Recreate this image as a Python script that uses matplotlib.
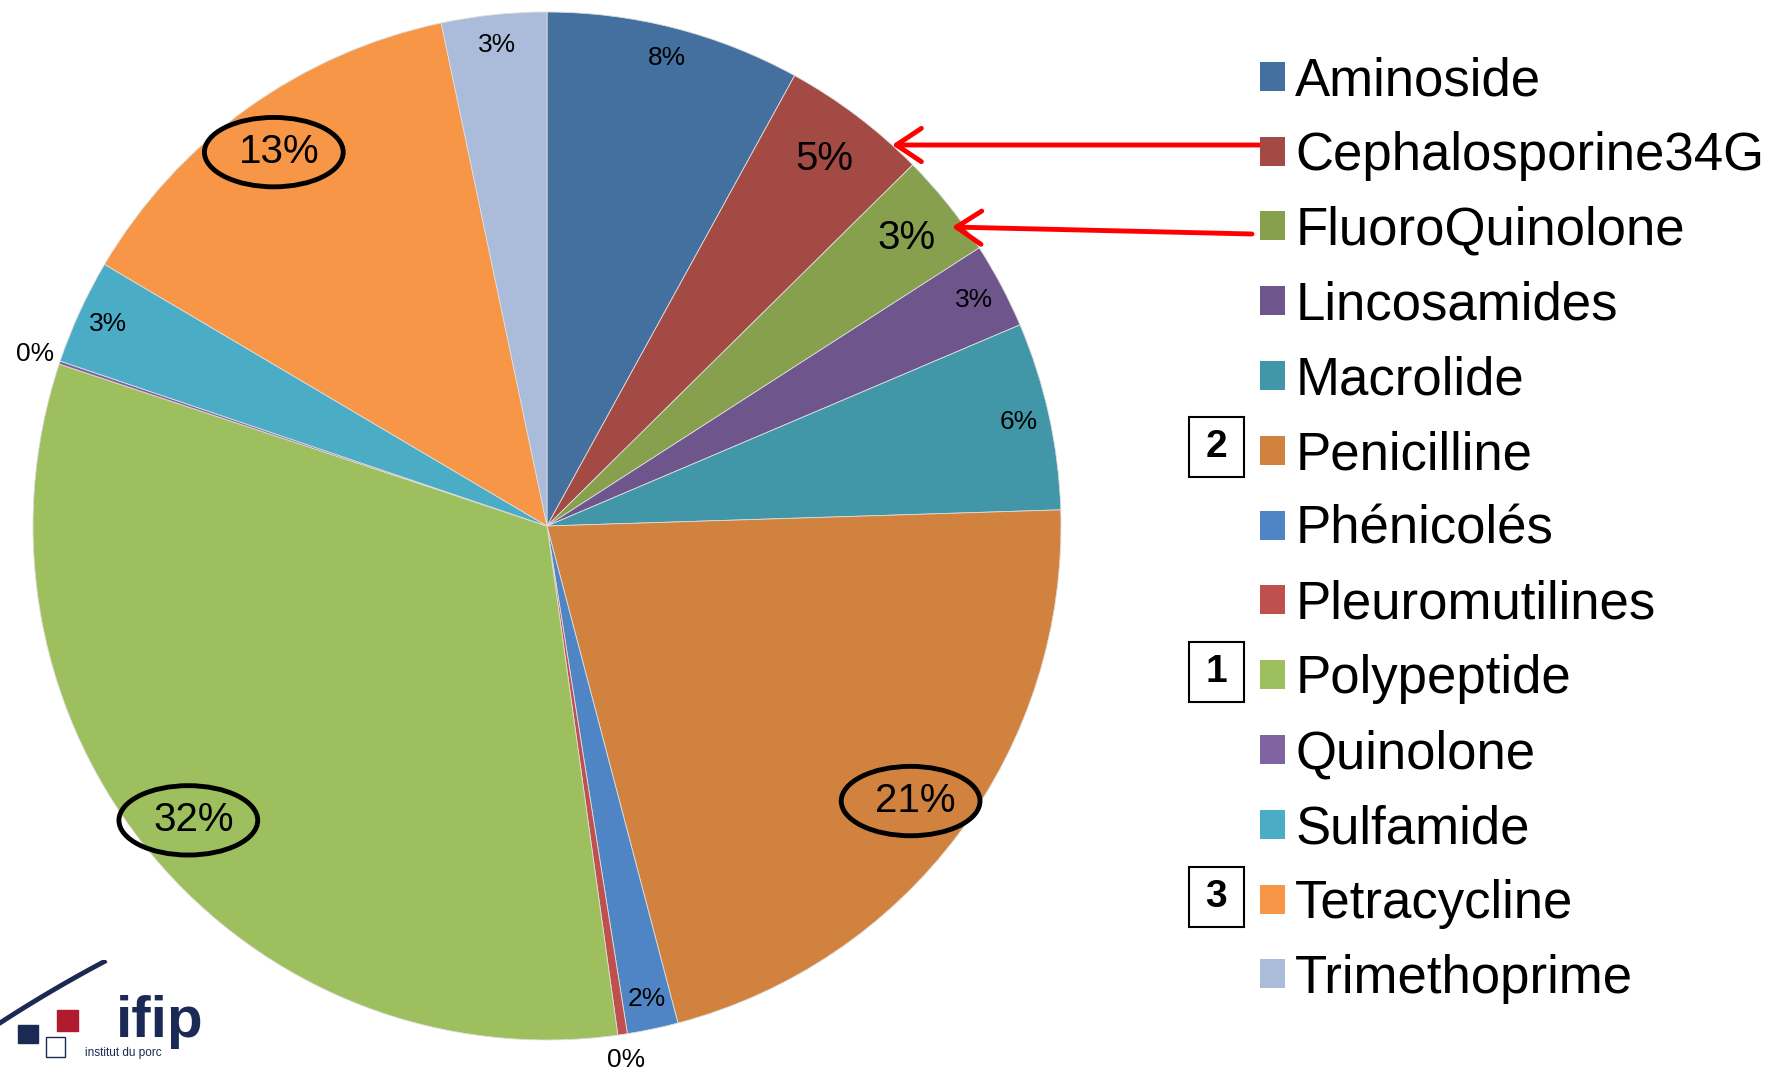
import numpy as np
import matplotlib
matplotlib.use("Agg")
import matplotlib.pyplot as plt
from matplotlib.patches import Ellipse, Rectangle

plt.rcParams['font.family'] = ['Liberation Sans', 'DejaVu Sans']

# données (%)
categories = ["Aminoside", "Cephalosporine34G", "FluoroQuinolone", "Lincosamides",
              "Macrolide", "Penicilline", "Phénicolés", "Pleuromutilines",
              "Polypeptide", "Quinolone", "Sulfamide", "Tetracycline", "Trimethoprime"]
values = [8.0, 4.6, 3.3, 2.7, 5.9, 21.4, 1.6, 0.3, 32.3, 0.1, 3.3, 13.2, 3.3]
colors = ["#44709F", "#A34A45", "#86A04E", "#6E568C", "#4196A8", "#D0823E", "#4F85C4",
          "#C0504D", "#9DBF5D", "#8064A2", "#4BACC6", "#F79646", "#AABCD9"]
big = ["Cephalosporine34G", "FluoroQuinolone", "Penicilline", "Polypeptide", "Tetracycline"]
circled = ["Penicilline", "Polypeptide", "Tetracycline"]
ranks = {"Polypeptide": "1", "Penicilline": "2", "Tetracycline": "3"}

W, H = 1775, 1071
fig = plt.figure(figsize=(W / 100, H / 100), dpi=100)

# camembert : centre (547, 526) px, rayon 514 px
cx, cy, R = 547, H - 526, 514
ax = fig.add_axes([(cx - R) / W, (cy - R) / H, 2 * R / W, 2 * R / H])
wedges, _ = ax.pie(values, colors=colors, startangle=90, counterclock=False,
                   radius=1, wedgeprops=dict(edgecolor="#dddddd", linewidth=0.6))
ax.set_xlim(-1, 1)
ax.set_ylim(-1, 1)
ax.axis("off")

total = sum(values)
for w, name, v in zip(wedges, categories, values):
    mid = np.deg2rad((w.theta1 + w.theta2) / 2)
    pct = "%.0f%%" % (100 * v / total)
    if round(100 * v / total) == 0:
        r, fs = 1.05, 19
    elif name in big:
        r, fs = 0.895, 29
    else:
        r, fs = 0.94, 19
    x, y = r * np.cos(mid), r * np.sin(mid)
    ax.text(x, y, pct, ha="center", va="center", fontsize=fs, color="black")
    if name in circled:
        ax.add_patch(Ellipse((x - 0.01, y), 0.27, 0.135, fill=False, edgecolor="black",
                             linewidth=3.5, clip_on=False))

# légende
leg = fig.legend(wedges, categories, loc="upper left",
                 bbox_to_anchor=(1260 / W, 1 - 56 / H), frameon=False,
                 fontsize=38, handlelength=0.47, handleheight=0.47,
                 handletextpad=0.2, labelspacing=0.47, borderpad=0,
                 borderaxespad=0)
for h in leg.legend_handles:
    h.set_edgecolor("none")

# numéros encadrés
row0, step = 78, 75
for name, num in ranks.items():
    i = categories.index(name)
    yc = row0 + i * step - 6
    fig.add_artist(Rectangle(((1189) / W, (H - yc - 30) / H), 55 / W, 60 / H,
                             transform=fig.transFigure, fill=False,
                             edgecolor="black", linewidth=1.5))
    fig.text(1216 / W, (H - yc) / H, num, ha="center", va="center",
             fontsize=28, fontweight="bold")

# flèches rouges
arrow = dict(arrowstyle="->,head_length=0.9,head_width=0.6", color="red",
             lw=3.5, shrinkA=0, shrinkB=0, mutation_scale=20)
fig.add_artist(plt.Annotation("", xy=(892, H - 145), xytext=(1262, H - 145),
                              xycoords="figure pixels", arrowprops=arrow))
fig.add_artist(plt.Annotation("", xy=(952, H - 227), xytext=(1252, H - 234),
                              xycoords="figure pixels", arrowprops=arrow))

# logo ifip
navy = "#1B2A55"
lax = fig.add_axes([0, 0, 230 / W, 111 / H])
lax.set_xlim(0, 230)
lax.set_ylim(111, 0)
lax.axis("off")
t = np.deg2rad(np.linspace(117.8, 124.5, 60))
lax.plot(734.6 + 1347 * np.cos(t), 1192 - 1347 * np.sin(t), color=navy, lw=3.5,
         solid_capstyle="butt")
lax.add_patch(Rectangle((18, 65), 20, 18, color=navy))
lax.add_patch(Rectangle((57, 50), 21, 21, color="#B01B2E"))
lax.add_patch(Rectangle((46, 77), 19, 20, fill=False, edgecolor=navy, lw=1))
lax.text(116, 77, "ifip", fontsize=42, fontweight="bold", color=navy,
         ha="left", va="baseline")
lax.text(85, 93, "institut du porc", fontsize=8.5, color=navy, ha="left", va="center")

fig.savefig("out.png", dpi=100)
